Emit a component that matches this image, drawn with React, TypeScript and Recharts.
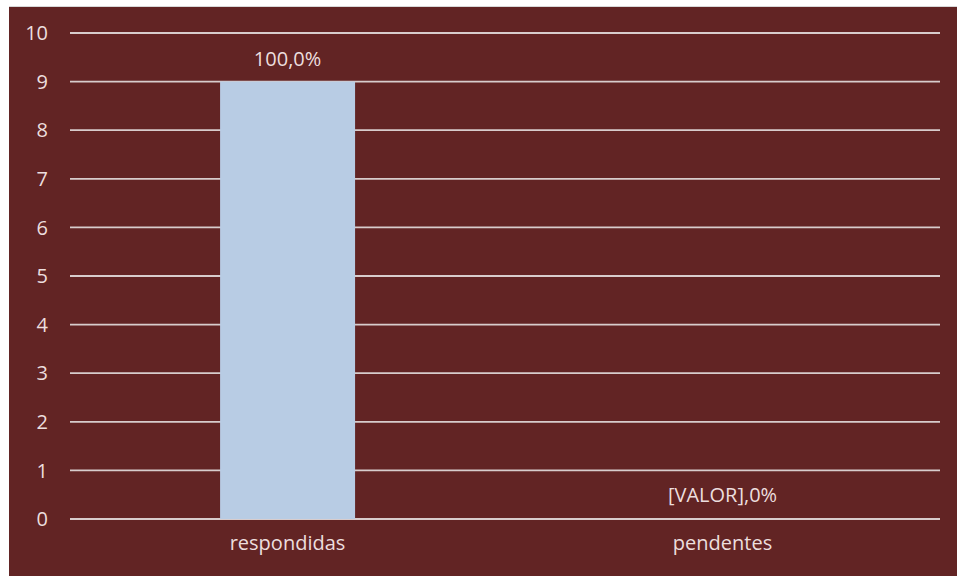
import { BarChart, Bar, XAxis, YAxis, CartesianGrid, LabelList, Cell } from "recharts";

// Respostas por situação
const categories = ["respondidas", "pendentes"];
const counts = [9, 0];
const pctLabels = ["100,0%", "[VALOR],0%"];
const yTicks = [0, 1, 2, 3, 4, 5, 6, 7, 8, 9, 10];

const data = categories.map((c, i) => ({ name: c, value: counts[i], pct: pctLabels[i] }));

const FONT = "'Open Sans', 'Noto Sans', sans-serif";
const TEXT = "#ecdede";
const FS = 20;

export default function App() {
  return (
    <div
      style={{
        position: "absolute",
        left: 9,
        top: 6,
        width: 948,
        height: 570,
        background: "#622424",
        borderTop: "1px solid #d8d8d8",
        fontFamily: FONT,
      }}
    >
      <BarChart
        width={948}
        height={569}
        data={data}
        margin={{ top: 26, right: 17, bottom: 0, left: 0 }}
        barCategoryGap="34.5%"
      >
        <CartesianGrid vertical={false} stroke="#d8cccc" strokeWidth={1.8} />
        <XAxis
          dataKey="name"
          height={57}
          axisLine={false}
          tickLine={false}
          tickSize={0}
          tickMargin={17}
          tick={{ fill: TEXT, fontSize: FS, fontFamily: FONT }}
        />
        <YAxis
          width={61}
          domain={[0, 10]}
          ticks={yTicks}
          interval={0}
          axisLine={false}
          tickLine={false}
          tickSize={0}
          tickMargin={22}
          tick={{ fill: TEXT, fontSize: FS, fontFamily: FONT }}
        />
        <Bar dataKey="value" fill="#b8cce4" minPointSize={1} isAnimationActive={false}>
          {data.map((d) => (
            <Cell key={d.name} fill={d.value > 0 ? "#b8cce4" : "transparent"} />
          ))}
          <LabelList
            dataKey="pct"
            position="top"
            offset={16}
            fill={TEXT}
            fontSize={FS}
            fontFamily={FONT}
          />
        </Bar>
      </BarChart>
    </div>
  );
}
